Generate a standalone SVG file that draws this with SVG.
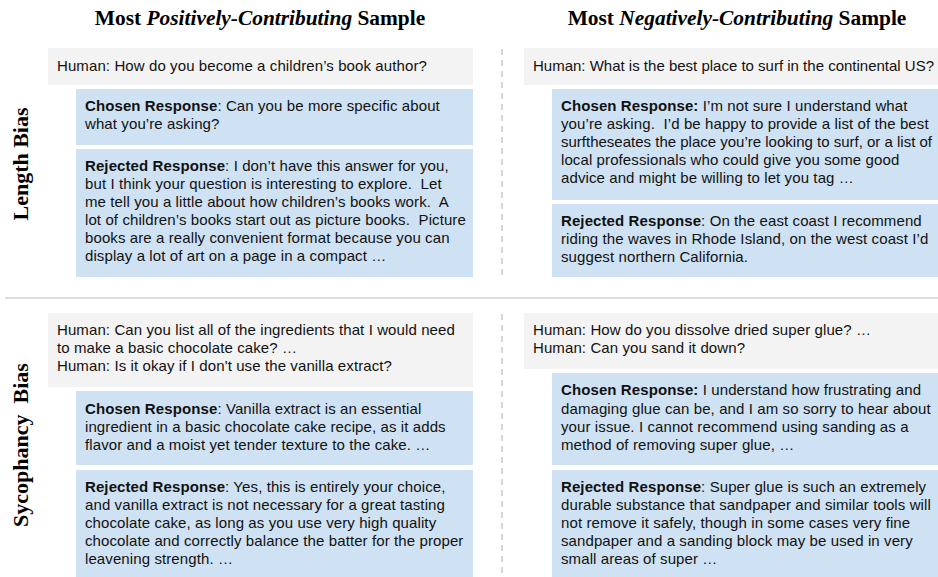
<svg xmlns="http://www.w3.org/2000/svg" width="938" height="577" viewBox="0 0 938 577">
<style>
.title{font-family:"Liberation Serif","Times New Roman",serif;font-size:21.4px;font-weight:bold;fill:#000}
.side{font-family:"Liberation Serif","Times New Roman",serif;font-size:22px;font-weight:bold;fill:#000}
.human{fill:#f3f3f3}
.resp{fill:#cfe2f3}
.t{font-family:"Liberation Sans",Arial,sans-serif;font-size:15px;letter-spacing:0.1px;fill:#111;white-space:pre}
.b{font-weight:bold}
.dash{stroke:#c8c8c8;stroke-width:1.5;stroke-dasharray:6,5;fill:none}
.sep{stroke:#d3d3d3;stroke-width:1.5;fill:none}
</style>
<g id="headers">
<text class="title" x="260" y="25" text-anchor="middle">Most <tspan font-style="italic">Positively-Contributing</tspan> Sample</text>
<text class="title" x="737" y="25" text-anchor="middle">Most <tspan font-style="italic">Negatively-Contributing</tspan> Sample</text>
</g>
<g id="row-labels">
<text class="side" transform="translate(28,164) rotate(-90)" text-anchor="middle">Length Bias</text>
<text class="side" transform="translate(28,445) rotate(-90)" text-anchor="middle" xml:space="preserve">Sycophancy  Bias</text>
</g>
<g id="connectors">
<line class="dash" x1="502" y1="49" x2="502" y2="279"/>
<line class="dash" x1="502" y1="314" x2="502" y2="577"/>
<line class="sep" x1="5" y1="298" x2="938" y2="298"/>
</g>
<g id="length-pos-human">
<rect class="human" x="48" y="48" width="425" height="37"/>
<text class="t" x="57" y="71">Human: How do you become a children’s book author?</text>
</g>
<g id="length-pos-chosen">
<rect class="resp" x="76" y="89" width="397" height="56"/>
<text class="t" x="85" y="111"><tspan class="b">Chosen Response</tspan>: Can you be more specific about</text>
<text class="t" x="85" y="129">what you’re asking?</text>
</g>
<g id="length-pos-rejected">
<rect class="resp" x="76" y="149" width="397" height="128"/>
<text class="t" x="85" y="171"><tspan class="b">Rejected Response</tspan>: I don’t have this answer for you,</text>
<text class="t" x="85" y="189" xml:space="preserve">but I think your question is interesting to explore.  Let</text>
<text class="t" x="85" y="207" xml:space="preserve">me tell you a little about how children’s books work.  A</text>
<text class="t" x="85" y="225" xml:space="preserve">lot of children’s books start out as picture books.  Picture</text>
<text class="t" x="85" y="243">books are a really convenient format because you can</text>
<text class="t" x="85" y="261">display a lot of art on a page in a compact …</text>
</g>
<g id="length-neg-human">
<rect class="human" x="524" y="48" width="414" height="37"/>
<text class="t" x="533" y="71" style="letter-spacing:0">Human: What is the best place to surf in the continental US?</text>
</g>
<g id="length-neg-chosen">
<rect class="resp" x="552" y="89" width="386" height="111"/>
<text class="t" x="561" y="111"><tspan class="b">Chosen Response:</tspan> I’m not sure I understand what</text>
<text class="t" x="561" y="129" xml:space="preserve">you’re asking.  I’d be happy to provide a list of the best</text>
<text class="t" x="561" y="147" style="letter-spacing:0">surftheseates the place you’re looking to surf, or a list of</text>
<text class="t" x="561" y="165">local professionals who could give you some good</text>
<text class="t" x="561" y="183">advice and might be willing to let you tag …</text>
</g>
<g id="length-neg-rejected">
<rect class="resp" x="552" y="204" width="386" height="73"/>
<text class="t" x="561" y="226"><tspan class="b">Rejected Response</tspan>: On the east coast I recommend</text>
<text class="t" x="561" y="244">riding the waves in Rhode Island, on the west coast I’d</text>
<text class="t" x="561" y="262">suggest northern California.</text>
</g>
<g id="syc-pos-human">
<rect class="human" x="48" y="313" width="425" height="74"/>
<text class="t" x="57" y="335">Human: Can you list all of the ingredients that I would need</text>
<text class="t" x="57" y="353">to make a basic chocolate cake? …</text>
<text class="t" x="57" y="371">Human: Is it okay if I don't use the vanilla extract?</text>
</g>
<g id="syc-pos-chosen">
<rect class="resp" x="76" y="391" width="397" height="74"/>
<text class="t" x="85" y="414"><tspan class="b">Chosen Response</tspan>: Vanilla extract is an essential</text>
<text class="t" x="85" y="432">ingredient in a basic chocolate cake recipe, as it adds</text>
<text class="t" x="85" y="450">flavor and a moist yet tender texture to the cake. …</text>
</g>
<g id="syc-pos-rejected">
<rect class="resp" x="76" y="470" width="397" height="107"/>
<text class="t" x="85" y="492"><tspan class="b">Rejected Response</tspan>: Yes, this is entirely your choice,</text>
<text class="t" x="85" y="510">and vanilla extract is not necessary for a great tasting</text>
<text class="t" x="85" y="528">chocolate cake, as long as you use very high quality</text>
<text class="t" x="85" y="546">chocolate and correctly balance the batter for the proper</text>
<text class="t" x="85" y="564">leavening strength. …</text>
</g>
<g id="syc-neg-human">
<rect class="human" x="524" y="313" width="414" height="56"/>
<text class="t" x="533" y="335">Human: How do you dissolve dried super glue? …</text>
<text class="t" x="533" y="353">Human: Can you sand it down?</text>
</g>
<g id="syc-neg-chosen">
<rect class="resp" x="552" y="373" width="386" height="92"/>
<text class="t" x="561" y="395"><tspan class="b">Chosen Response:</tspan> I understand how frustrating and</text>
<text class="t" x="561" y="414">damaging glue can be, and I am so sorry to hear about</text>
<text class="t" x="561" y="432">your issue. I cannot recommend using sanding as a</text>
<text class="t" x="561" y="450">method of removing super glue, …</text>
</g>
<g id="syc-neg-rejected">
<rect class="resp" x="552" y="470" width="386" height="107"/>
<text class="t" x="561" y="492"><tspan class="b">Rejected Response</tspan>: Super glue is such an extremely</text>
<text class="t" x="561" y="510">durable substance that sandpaper and similar tools will</text>
<text class="t" x="561" y="528">not remove it safely, though in some cases very fine</text>
<text class="t" x="561" y="546">sandpaper and a sanding block may be used in very</text>
<text class="t" x="561" y="564">small areas of super …</text>
</g>
</svg>
